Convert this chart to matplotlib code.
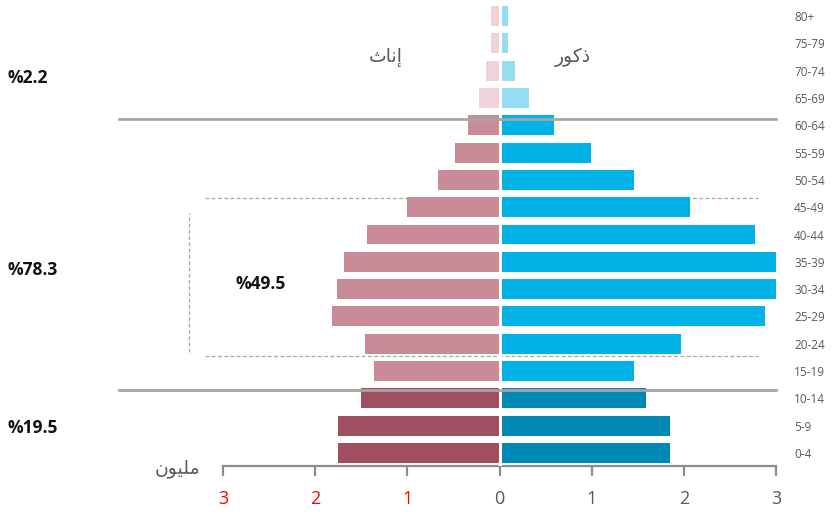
import matplotlib
matplotlib.use("Agg")
import matplotlib.pyplot as plt

# ---- data ----
age_groups = ["0-4", "5-9", "10-14", "15-19", "20-24", "25-29", "30-34", "35-39",
              "40-44", "45-49", "50-54", "55-59", "60-64", "65-69", "70-74", "75-79", "80+"]
females = [1.75, 1.75, 1.50, 1.36, 1.46, 1.82, 1.76, 1.69, 1.44, 1.00, 0.67, 0.48,
           0.34, 0.22, 0.15, 0.09, 0.09]
males = [1.85, 1.85, 1.59, 1.46, 1.97, 2.88, 3.00, 3.00, 2.77, 2.07, 1.46, 0.99,
         0.59, 0.32, 0.17, 0.09, 0.09]
x_ticks = [-3, -2, -1, 0, 1, 2, 3]
x_tick_labels = ["3", "2", "1", "0", "1", "2", "3"]
share_labels = ["%2.2", "%78.3", "%19.5"]
inner_label = "%49.5"

# ---- colours ----
f_cols = {"young": "#a04f60", "work": "#c98b97", "old": "#efd3da"}
m_cols = {"young": "#0088b5", "work": "#00b2e5", "old": "#96dcf3"}

def band(i):
    return "young" if i < 3 else ("work" if i < 13 else "old")

plt.rcParams["font.family"] = ["Open Sans", "DejaVu Sans"]

W, H = 833, 514
fig = plt.figure(figsize=(W / 100, H / 100), dpi=100)
ax = fig.add_axes([223 / W, (H - 466) / H, (776 - 223) / W, 466 / H])

y = list(range(len(age_groups)))
fc = [f_cols[band(i)] for i in y]
mc = [m_cols[band(i)] for i in y]
ax.barh(y, [-v for v in females], height=0.73, color=fc, zorder=2)
ax.barh(y, males, height=0.73, color=mc, zorder=2)
ax.axvline(0, color="white", lw=2.2, zorder=3)

ax.set_xlim(-3, 3)
ax.set_ylim(-0.476, 16.586)

for s in ["top", "left", "right"]:
    ax.spines[s].set_visible(False)
ax.spines["bottom"].set_color("#8c8c8c")
ax.spines["bottom"].set_linewidth(1.6)
ax.set_xticks(x_ticks)
ax.set_xticklabels(x_tick_labels, fontsize=13)
for lab, v in zip(ax.get_xticklabels(), x_ticks):
    lab.set_color("#ff0000" if v < 0 else "#595959")
ax.tick_params(axis="x", direction="out", length=7, width=1.6, color="#8c8c8c", pad=10)

ax.yaxis.tick_right()
ax.set_yticks(y)
ax.set_yticklabels(age_groups, fontsize=8.5, color="#595959")
ax.tick_params(axis="y", length=0, pad=13)

# separators
ax.plot([-4.13, 3.0], [12.22, 12.22], color="#a6a6a6", lw=2, clip_on=False, zorder=4)
ax.plot([-4.13, 3.0], [2.3, 2.3], color="#a6a6a6", lw=2, clip_on=False, zorder=4)
ax.plot([-3.19, 2.81], [9.33, 9.33], color="#a6a6a6", lw=0.9, ls=(0, (3, 2)), clip_on=False, zorder=1)
ax.plot([-3.19, 2.81], [3.55, 3.55], color="#a6a6a6", lw=0.9, ls=(0, (3, 2)), clip_on=False, zorder=1)
ax.plot([-3.37, -3.37], [3.7, 8.78], color="#a6a6a6", lw=0.9, ls=(0, (3, 2)), clip_on=False, zorder=1)

# text labels
def fx(px):
    return px / W

def fy(py):
    return 1 - py / H

fig.text(fx(8), fy(78), share_labels[0], fontsize=12.5, fontweight="bold", va="center", ha="left", color="#111111")
fig.text(fx(8), fy(270), share_labels[1], fontsize=12.5, fontweight="bold", va="center", ha="left", color="#111111")
fig.text(fx(8), fy(428), share_labels[2], fontsize=12.5, fontweight="bold", va="center", ha="left", color="#111111")
fig.text(fx(236), fy(284), inner_label, fontsize=12.5, fontweight="bold", va="center", ha="left", color="#111111")

# Arabic words written in visual order with presentation forms
females_word = "\uFE99\uFE8E\uFEE7\uFE87"   # إناث
males_word = "\uFEAD\uFEEE\uFEDB\uFEAB"     # ذكور
million_word = "\uFEE5\uFEEE\uFEF4\uFEE0\uFEE3"  # مليون
fig.text(fx(386), fy(57), females_word, fontsize=13.5, color="#595959", ha="center", va="center",
         family=["DejaVu Sans"])
fig.text(fx(573), fy(57), males_word, fontsize=13.5, color="#595959", ha="center", va="center",
         family=["DejaVu Sans"])
fig.text(fx(177), fy(469), million_word, fontsize=13.5, color="#595959", ha="center", va="center",
         family=["DejaVu Sans"])

fig.savefig("out.png", dpi=100)
